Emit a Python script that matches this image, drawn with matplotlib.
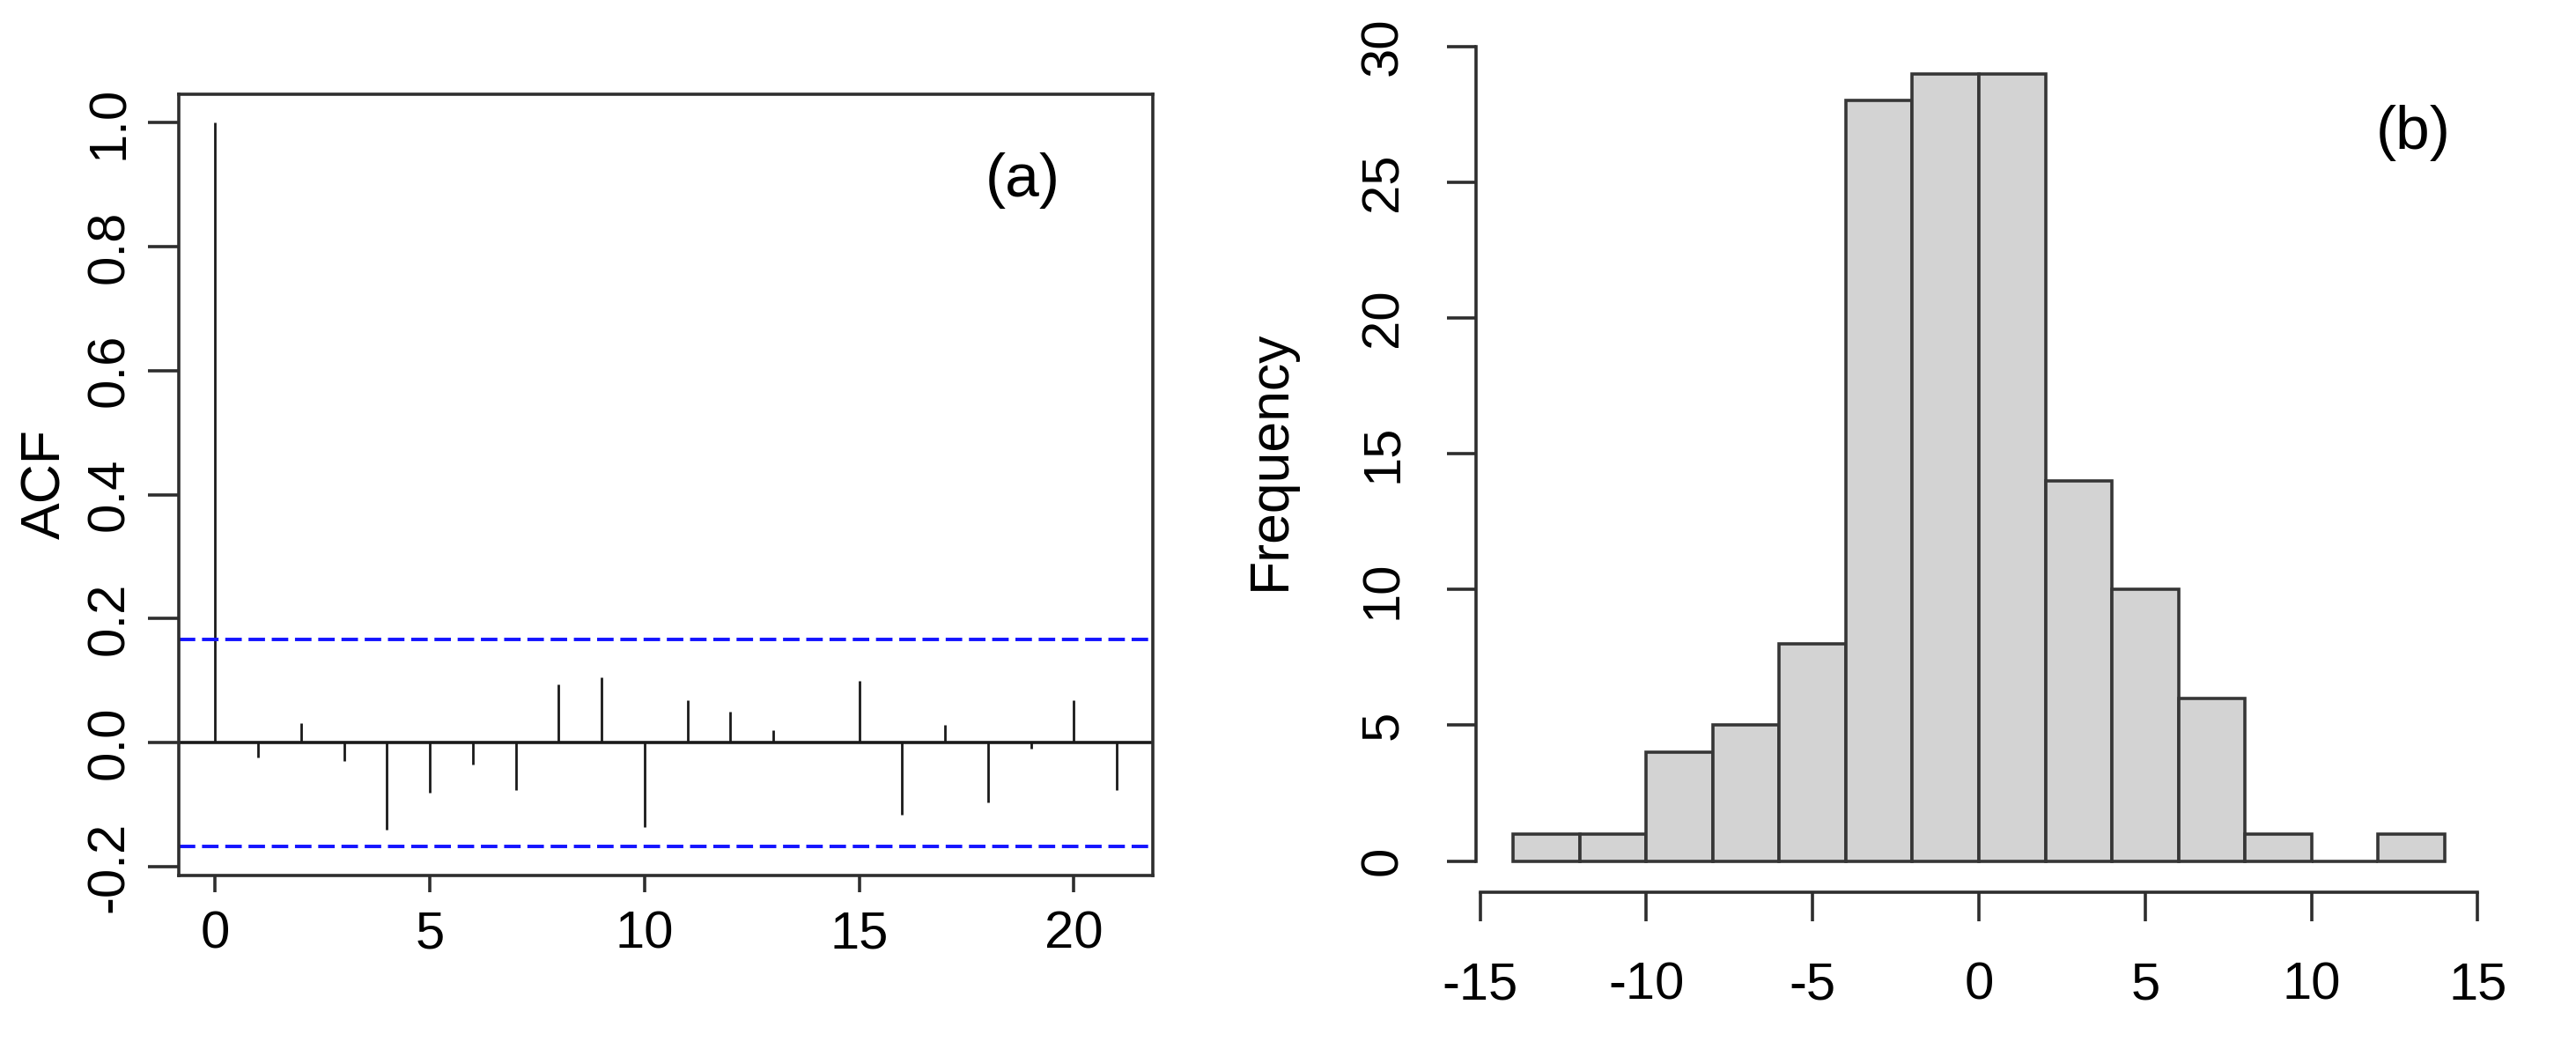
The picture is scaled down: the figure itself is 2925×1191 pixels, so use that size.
import numpy as np
import matplotlib
matplotlib.use("Agg")
import matplotlib.pyplot as plt

plt.rcParams['font.family'] = ['Liberation Sans', 'DejaVu Sans']
plt.rcParams['lines.scale_dashes'] = False

# ---- data ----
lags = list(range(0, 22))
acf_values = [1.0, -0.024, 0.032, -0.030, -0.140, -0.080, -0.035, -0.076,
              0.094, 0.106, -0.136, 0.069, 0.050, 0.020, 0.002, 0.099,
              -0.116, 0.029, -0.096, -0.010, 0.069, -0.076]
conf_limit = 0.167
acf_yticks = [-0.2, 0.0, 0.2, 0.4, 0.6, 0.8, 1.0]
acf_ytick_labels = ["-0.2", "0.0", "0.2", "0.4", "0.6", "0.8", "1.0"]
acf_xticks = [0, 5, 10, 15, 20]

bin_edges = [-14, -12, -10, -8, -6, -4, -2, 0, 2, 4, 6, 8, 10, 12, 14]
counts = [1, 1, 4, 5, 8, 28, 29, 29, 14, 10, 6, 1, 0, 1]
hist_xticks = [-15, -10, -5, 0, 5, 10, 15]
hist_yticks = [0, 5, 10, 15, 20, 25, 30]

W, H = 2925, 1191
fig = plt.figure(figsize=(W / 100, H / 100), dpi=100)

def px_axes(left, top, right, bottom):
    return fig.add_axes([left / W, 1 - bottom / H, (right - left) / W, (bottom - top) / H])

FS = 43
DARK = '#2e2e2e'
LW = 2.6

# ---- (a) ACF ----
ax1 = px_axes(203.3, 106.7, 1309, 994.3)
ax1.set_xlim(-0.84, 21.84)
ax1.set_ylim(-0.2146, 1.0459)
ax1.vlines(lags, 0, acf_values, color='#1a1a1a', lw=2.0)
ax1.axhline(0, color='#1a1a1a', lw=2.6)
ax1.axhline(conf_limit, color='#1414ff', lw=2.8, dashes=(13.5, 5.5))
ax1.axhline(-conf_limit, color='#1414ff', lw=2.8, dashes=(13.5, 5.5))
for s in ax1.spines.values():
    s.set_color(DARK)
    s.set_linewidth(LW)
ax1.set_xticks(acf_xticks)
ax1.set_xticklabels([str(t) for t in acf_xticks], fontsize=FS)
ax1.set_yticks(acf_yticks)
ax1.set_yticklabels(acf_ytick_labels, fontsize=FS, rotation=90, va='center')
ax1.tick_params(axis='y', direction='out', length=25, width=LW, pad=12, color=DARK)
ax1.tick_params(axis='x', direction='out', length=14, width=LW, pad=14, color=DARK)
fig.text(1161 / W, 1 - 205 / H, "(a)", fontsize=50, ha='center', va='center')
fig.text(52 / W, 1 - 550 / H, "ACF", fontsize=45, rotation=90, ha='center', va='center')

# ---- (b) histogram ----
ax2 = px_axes(1676, 47.8, 2818, 1013.3)
ax2.set_xlim(-15.12, 15.12)
ax2.set_ylim(-1.16, 30.16)
edges = np.array(bin_edges, dtype=float)
ax2.bar(edges[:-1], counts, width=np.diff(edges), align='edge',
        color='#d3d3d3', edgecolor='#363636', linewidth=LW)
ax2.spines['top'].set_visible(False)
ax2.spines['right'].set_visible(False)
ax2.spines['left'].set_bounds(0, 30)
ax2.spines['bottom'].set_bounds(-15, 15)
for k in ('left', 'bottom'):
    ax2.spines[k].set_color(DARK)
    ax2.spines[k].set_linewidth(LW)
ax2.set_xticks(hist_xticks)
ax2.set_xticklabels([str(t) for t in hist_xticks], fontsize=FS)
ax2.set_yticks(hist_yticks)
ax2.set_yticklabels([str(t) for t in hist_yticks], fontsize=FS, rotation=90, va='center')
ax2.tick_params(axis='both', direction='out', length=24, width=LW, pad=32, color=DARK)
fig.text(2740 / W, 1 - 151 / H, "(b)", fontsize=50, ha='center', va='center')
fig.text(1442 / W, 1 - 522 / H, "Frequency", fontsize=45, rotation=90, ha='center', va='center')

fig.savefig("out.png", dpi=100)
